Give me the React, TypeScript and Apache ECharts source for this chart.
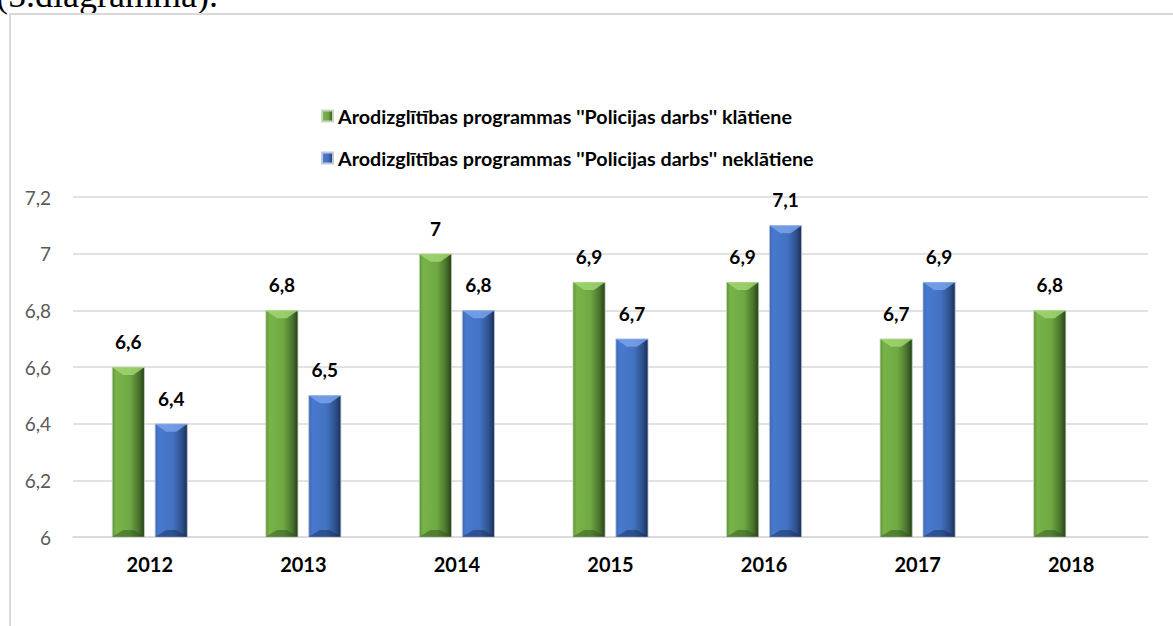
import React, { useEffect, useRef } from "react";
import * as echarts from "echarts";

const categories = ["2012", "2013", "2014", "2015", "2016", "2017", "2018"];
const seriesNames = [
  "Arodizglītības programmas ''Policijas darbs'' klātiene",
  "Arodizglītības programmas ''Policijas darbs'' neklātiene",
];
const klatiene = [6.6, 6.8, 7, 6.9, 6.9, 6.7, 6.8];
const neklatiene: (number | null)[] = [6.4, 6.5, 6.8, 6.7, 7.1, 6.9, null];
const yTicks = { min: 6, max: 7.2, interval: 0.2 };

const FONT = "Lato, 'Open Sans', sans-serif";

const fmt = (v: number) => String(Math.round(v * 10) / 10).replace(".", ",");

const greenFill = new echarts.graphic.LinearGradient(0, 0, 1, 0, [
  { offset: 0, color: "#5e9539" },
  { offset: 0.12, color: "#78b449" },
  { offset: 0.55, color: "#6fa843" },
  { offset: 0.82, color: "#4a752d" },
  { offset: 1, color: "#25401a" },
]);
const blueFill = new echarts.graphic.LinearGradient(0, 0, 1, 0, [
  { offset: 0, color: "#3f68b3" },
  { offset: 0.12, color: "#4879ce" },
  { offset: 0.55, color: "#4372c2" },
  { offset: 0.82, color: "#2f528f" },
  { offset: 1, color: "#1a2f55" },
]);

const BAR_W = 33;
const BAR_GAP_PX = 10;

export default function App() {
  const ref = useRef<HTMLDivElement>(null);
  useEffect(() => {
    if (!ref.current) return;
    const chart = echarts.init(ref.current, undefined, { renderer: "svg" });
    const label = {
      show: true,
      position: "top" as const,
      distance: 16,
      fontFamily: FONT,
      fontWeight: "bold" as const,
      fontSize: 19,
      color: "#000",
      formatter: (p: any) => fmt(p.value),
    };
    const bevel = (values: (number | null)[], side: number, light: string, dark: string, name: string) => ({
      name,
      type: "custom",
      silent: true,
      z: 3,
      data: values.map((v, i) => [i, v]).filter((d) => d[1] != null),
      encode: { x: 0, y: 1 },
      renderItem: (_params: any, api: any) => {
        const top = api.coord([api.value(0), api.value(1)]);
        const base = api.coord([api.value(0), yTicks.min]);
        const cx = top[0] + side * (BAR_W + BAR_GAP_PX) / 2;
        const l = cx - BAR_W / 2;
        const r = cx + BAR_W / 2;
        const h = 8;
        return {
          type: "group",
          children: [
            {
              type: "polygon",
              shape: { points: [[l, top[1]], [r, top[1]], [cx + 5, top[1] + h], [cx - 5, top[1] + h]] },
              style: { fill: light },
            },
            {
              type: "polygon",
              shape: { points: [[cx - 5, base[1] - 7], [cx + 5, base[1] - 7], [r, base[1]], [l, base[1]]] },
              style: { fill: dark },
            },
          ],
        };
      },
    });
    chart.setOption({
      animation: false,
      legend: {
        orient: "vertical",
        left: 321,
        top: 106,
        padding: 0,
        itemWidth: 11,
        itemHeight: 11,
        itemGap: 22,
        icon: "rect",
        textStyle: {
          fontFamily: FONT,
          fontWeight: "bold",
          fontSize: 19.7,
          lineHeight: 20,
          color: "#000",
        },
        data: seriesNames,
      },
      grid: { left: 73, right: 25, top: 197, bottom: 89 },
      xAxis: {
        type: "category",
        data: categories,
        axisLine: { show: true, lineStyle: { color: "#d9d9d9", width: 1.5 } },
        axisTick: { show: false },
        axisLabel: {
          margin: 17,
          fontFamily: FONT,
          fontWeight: "bold",
          fontSize: 20,
          color: "#000",
        },
      },
      yAxis: {
        type: "value",
        min: yTicks.min,
        max: yTicks.max,
        interval: yTicks.interval,
        axisLine: { show: false },
        axisTick: { show: false },
        splitLine: { lineStyle: { color: "#d9d9d9", width: 1.5 } },
        axisLabel: {
          margin: 22,
          fontFamily: FONT,
          fontSize: 19,
          color: "#595959",
          formatter: (v: number) => fmt(v),
        },
      },
      series: [
        {
          name: seriesNames[0],
          type: "bar",
          data: klatiene,
          barWidth: BAR_W,
          barGap: "30%",
          itemStyle: { color: greenFill, borderColor: "#c9d6c0", borderWidth: 0.8 },
          label,
        },
        {
          name: seriesNames[1],
          type: "bar",
          data: neklatiene,
          barWidth: BAR_W,
          barGap: "30%",
          itemStyle: { color: blueFill, borderColor: "#c0c9d9", borderWidth: 0.8 },
          label,
        },
        bevel(klatiene, -1, "rgba(165,215,115,0.8)", "rgba(45,75,28,0.45)", "g-bevel"),
        bevel(neklatiene, 1, "rgba(125,165,238,0.8)", "rgba(20,40,80,0.45)", "b-bevel"),
      ],
    });
    return () => chart.dispose();
  }, []);

  return (
    <div style={{ position: "fixed", left: 0, top: 0, width: 1173, height: 626, background: "#fff", overflow: "hidden" }}>
      <div
        style={{
          position: "absolute",
          left: -4,
          top: -23,
          fontFamily: "'Liberation Serif', 'Times New Roman', serif",
          fontSize: 36,
          lineHeight: "36px",
          color: "#000",
          whiteSpace: "nowrap",
        }}
      >
        (5.diagramma).
      </div>
      <div
        style={{
          position: "absolute",
          left: 9,
          top: 13,
          width: 1300,
          height: 800,
          border: "2px solid #d9d9d9",
        }}
      />
      <div ref={ref} style={{ position: "absolute", left: 0, top: 0, width: 1173, height: 626 }} />
    </div>
  );
}
